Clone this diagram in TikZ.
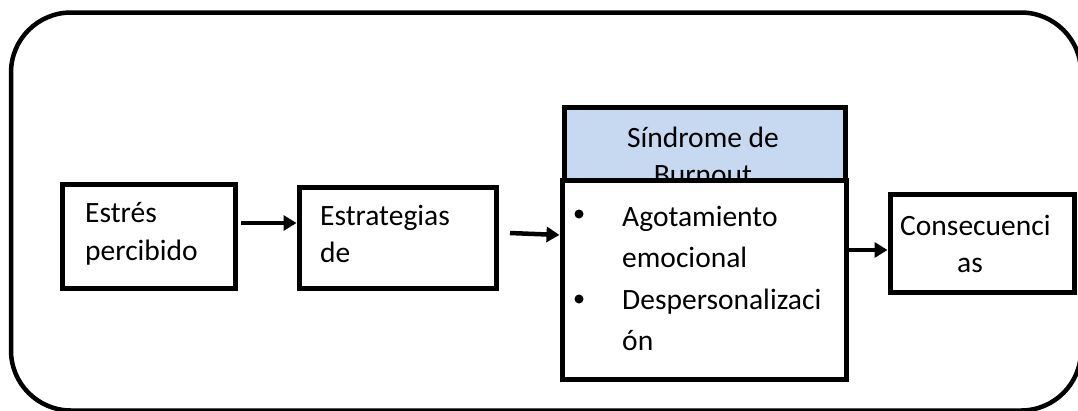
\documentclass[tikz,border=0pt]{standalone}
\usepackage{fontspec}
\setmainfont{Carlito}
\usetikzlibrary{arrows.meta}
\definecolor{hdrblue}{RGB}{198,217,241}
\begin{document}
\begin{tikzpicture}[x=1pt,y=-1pt,
  boxnode/.style={draw=black,line width=5pt,inner sep=0pt,outer sep=2.5pt},
  txt/.style={inner sep=0pt,anchor=base west,font=\fontsize{29.5}{36}\selectfont},
  ctxt/.style={inner sep=0pt,anchor=base,font=\fontsize{29.5}{36}\selectfont},
  bullet/.style={circle,fill=black,inner sep=0pt,minimum size=9pt},
  arr/.style={line width=4.5pt,-{Triangle[length=13pt,width=15pt]}}]
\useasboundingbox (0,0) rectangle (1078,410);
\clip (0,0) rectangle (1078,410);
% outer frame
\draw[line width=4.5pt,rounded corners=60pt] (11,12.5) rectangle (1081,410.5);
% boxes
\node[boxnode,minimum width=173pt,minimum height=104pt] (estres) at (148.5,236) {};
\node[boxnode,minimum width=197pt,minimum height=101pt] (estrat) at (397.5,237.5) {};
\node[boxnode,fill=hdrblue,minimum width=281pt,minimum height=73pt] (header) at (704.5,143.5) {};
\node[ctxt] (h1) at (703,147) {Síndrome de};
\node[ctxt] (h2) at (703,184) {Burnout};
\node[boxnode,fill=white,minimum width=284pt,minimum height=199pt] (main) at (704,279.5) {};
\node[boxnode,minimum width=184pt,minimum height=98pt] (consec) at (982,243) {};
% texts
\node[txt] (t1) at (85,222) {Estrés};
\node[txt] (t2) at (85,260) {percibido};
\node[txt] (t3) at (320,225) {Estrategias};
\node[txt] (t4) at (320,262) {de};
\node[bullet] (b1) at (579,214) {};
\node[txt] (t5) at (622,226) {Agotamiento};
\node[txt] (t6) at (622,267) {emocional};
\node[bullet] (b2) at (579,299) {};
\node[txt] (t7) at (622,309) {Despersonalizaci};
\node[txt] (t8) at (622,350) {ón};
\node[txt] (t9) at (900,235) {Consecuenci};
\node[ctxt] (t10) at (970,272) {as};
% arrows
\coordinate (y1) at (0,223);
\coordinate (a2s) at (510,233);
\coordinate (y2) at (0,235);
\coordinate (y3) at (0,250);
\draw[arr] ([xshift=3pt]estres.east |- y1) -- (estrat.west |- y1);
\draw[arr] (a2s) -- (main.west |- y2);
\draw[arr] (main.east |- y3) -- (consec.west |- y3);
\end{tikzpicture}
\end{document}
